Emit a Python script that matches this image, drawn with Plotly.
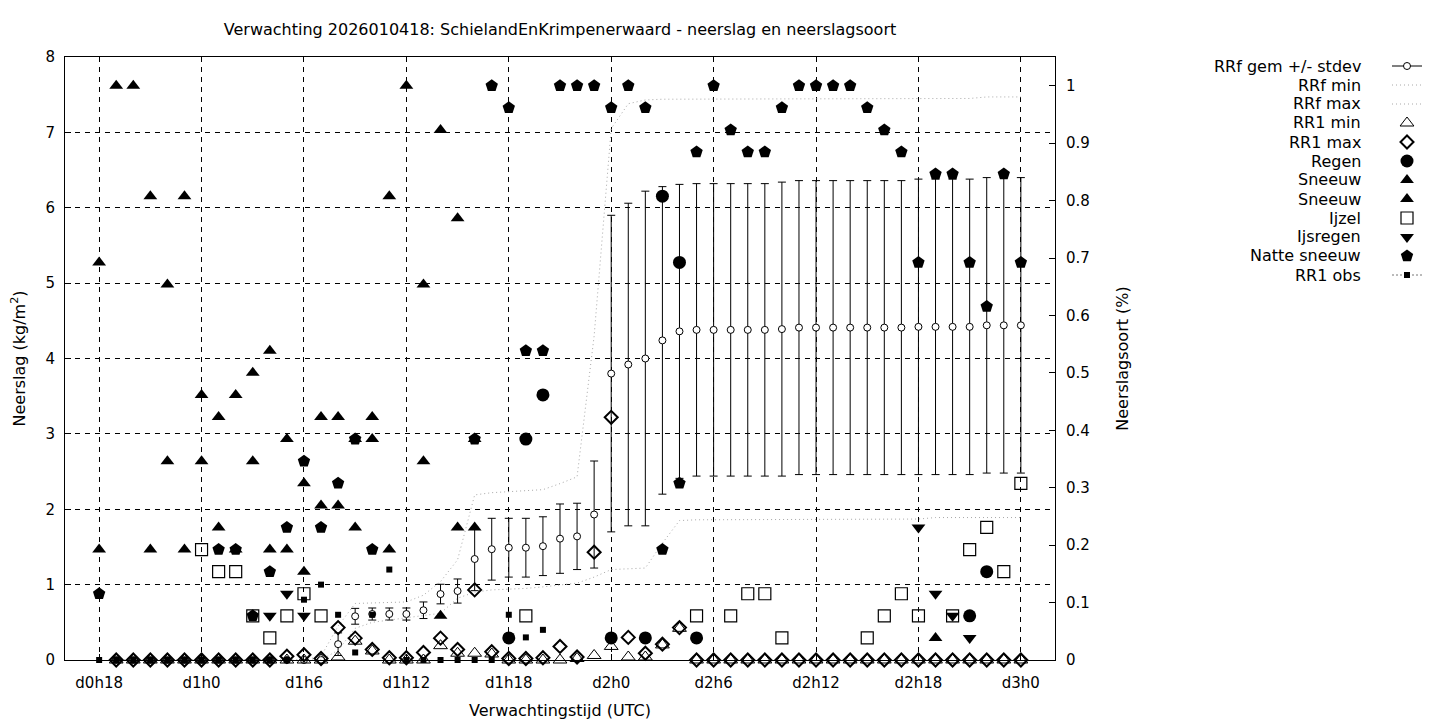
import plotly.graph_objects as go

N_MEMBERS = 26
hours = list(range(18, 73))
tick_hours = [18, 24, 30, 36, 42, 48, 54, 60, 66, 72]
tick_labels = ['d0h18', 'd1h0', 'd1h6', 'd1h12', 'd1h18', 'd2h0', 'd2h6', 'd2h12', 'd2h18', 'd3h0']
y2_ticks = [0, 0.1, 0.2, 0.3, 0.4, 0.5, 0.6, 0.7, 0.8, 0.9, 1.0]
y2_labels = ['0', '0.1', '0.2', '0.3', '0.4', '0.5', '0.6', '0.7', '0.8', '0.9', '1']
legend_labels = ['RRf gem +/- stdev', 'RRf min', 'RRf max', 'RR1 min', 'RR1 max', 'Regen',
                 'Sneeuw', 'Sneeuw', 'Ijzel', 'Ijsregen', 'Natte sneeuw', 'RR1 obs']

_ = None
# ---- precipitation (kg/m2), hours 18..72 ----
rrf_mean = [_] + [0] * 13 + [
    0.21, 0.58, 0.61, 0.61, 0.61, 0.66, 0.875, 0.915, 1.34,      # h32-h40
    1.47, 1.49, 1.49, 1.51, 1.61, 1.64, 1.93,                    # h41-h47
    3.80, 3.92, 4.00, 4.24, 4.36,                                # h48-h52
    4.38, 4.38, 4.38, 4.38, 4.38, 4.39,                          # h53-h58
    4.41, 4.41, 4.41, 4.41, 4.41, 4.41, 4.41,                    # h59-h65
    4.42, 4.42, 4.42, 4.42,                                      # h66-h69
    4.44, 4.44, 4.44]                                            # h70-h72
rrf_std = [_] * 14 + [
    0.15, 0.105, 0.08, 0.08, 0.08, 0.11, 0.13, 0.16, 0.42,
    0.41, 0.39, 0.39, 0.39, 0.46, 0.44, 0.71,
    2.10, 2.14, 2.22, 2.04, 1.95,
    1.94, 1.94, 1.94, 1.94, 1.94, 1.95,
    1.95, 1.95, 1.95, 1.95, 1.95, 1.95, 1.95,
    1.96, 1.96, 1.96, 1.96,
    1.96, 1.96, 1.96]
rrf_min = [_] + [0] * 13 + [
    0.13, 0.42, 0.50, 0.53, 0.55, 0.58, 0.62, 0.82, 0.90,
    0.93, 0.94, 0.95, 0.97, 1.00, 1.02, 1.10,
    1.20, 1.21, 1.22, 1.55, 1.85,
    1.86, 1.86, 1.86, 1.86, 1.86, 1.86,
    1.86, 1.86, 1.87, 1.87, 1.87, 1.87, 1.87,
    1.87, 1.89, 1.89, 1.89,
    1.89, 1.89, 1.89]
rrf_max = [_] + [0] * 12 + [0.05] + [
    0.45, 0.75, 0.76, 0.76, 0.77, 0.86, 1.04, 1.33, 2.19,
    2.22, 2.23, 2.24, 2.26, 2.34, 2.43, 4.30,
    7.05, 7.38, 7.43, 7.44, 7.44,
    7.44, 7.44, 7.44, 7.44, 7.44, 7.44,
    7.44, 7.44, 7.44, 7.44, 7.44, 7.44, 7.44,
    7.45, 7.45, 7.45, 7.45,
    7.47, 7.47, 7.47]
rr1_min = [_] + [0] * 13 + [
    0.04, 0.25, 0.12, 0, 0, 0, 0.19, 0.09, 0.09,
    0.08, 0, 0, 0, 0, 0.02, 0.06,
    0.18, 0.04, 0.04, 0.20, 0.42] + [0] * 20
rr1_max = [_] + [0] * 10 + [0.05, 0.07, 0.02] + [
    0.43, 0.29, 0.14, 0.03, 0.03, 0.10, 0.29, 0.14, 0.93,
    0.11, 0.02, 0.02, 0.03, 0.18, 0.04, 1.43,
    3.22, 0.30, 0.09, 0.21, 0.43] + [0] * 20
rr1_obs = [0] * 12 + [0.8, 1.0, 0.6, 0.1, 0.6, 1.2] + [0] * 6 + [0.6, 0.3, 0.4] + [_] * 28

# ---- precipitation type: number of ensemble members (of 26), hours 18..72 ----
#            h18..h28 / h29..h39 / h40..h50 / h51..h61 / h62..h72
sneeuw1 = [18, 26, 26, 21, 17, 21, 12, 11, 12, 13, 14,
           10, 8, 11, 11, 10, 11, 21, 26, 17, 24, 20,
           10, _, _, _, _, _, _, _, _, _, _,
           _, _, _, _, _, _, _, _, _, _, _,
           _, _, _, _, _, 1, _, _, _, _, _]
sneeuw2 = [5, _, _, 5, 9, 5, 9, 6, 5, 9, 5,
           5, 4, 7, 7, 6, 10, 5, _, 9, 2, 6,
           6, _, _, _, _, _, _, _, _, _, _,
           _, _, _, _, _, _, _, _, _, _, _,
           _, _, _, _, _, _, _, _, _, _, _]
natte = [3, _, _, _, _, _, _, 5, 5, 2, 4,
         6, 9, 6, 8, 10, 5, _, _, _, _, _,
         10, 26, 25, 14, 14, 26, 26, 26, 25, 26, 25,
         5, 8, 23, 26, 24, 23, 23, 25, 26, 26, 26,
         26, 25, 24, 23, 18, 22, 22, 18, 16, 22, 18]
regen = [_, _, _, _, _, _, _, _, _, _, _,
         _, _, _, _, _, _, _, _, _, _, _,
         _, _, 1, 10, 12, _, _, _, 1, _, 1,
         21, 18, 1, _, _, _, _, _, _, _, _,
         _, _, _, _, _, _, _, 2, 4, _, _]
ijzel = [_, _, _, _, _, _, 5, 4, 4, 2, 1,
         2, 3, 2, _, _, _, _, _, _, _, _,
         _, _, _, 2, _, _, _, _, _, _, _,
         _, _, 2, _, 2, 3, 3, 1, _, _, _,
         _, 1, 2, 3, 2, _, 2, 5, 6, 4, 8]
ijsregen = [_, _, _, _, _, _, _, _, _, _, 2,
            3, 2, _, _, _, _, _, _, _, _, _,
            _, _, _, _, _, _, _, _, _, _, _,
            _, _, _, _, _, _, _, _, _, _, _,
            _, _, _, _, 6, 3, 2, 1, _, _, _]


def frac(counts):
    return [None if c is None else c / N_MEMBERS for c in counts]


FONT = 'DejaVu Sans'
BLANK = ' '   # legend labels are drawn as right-aligned annotations (gnuplot style key)
fig = go.Figure()

# RRf gem +/- stdev
fig.add_trace(go.Scatter(
    x=hours, y=rrf_mean, mode='markers', showlegend=False, name=legend_labels[0],
    marker=dict(symbol='circle', size=7, color='white', line=dict(color='black', width=1)),
    error_y=dict(type='data', array=rrf_std, visible=True, color='black', thickness=1, width=4),
    cliponaxis=False))
fig.add_trace(go.Scatter(
    x=[None], y=[None], mode='lines+markers', name=BLANK,
    line=dict(color='black', width=1),
    marker=dict(symbol='circle', size=7, color='white', line=dict(color='black', width=1))))
# RRf min / max
fig.add_trace(go.Scatter(x=hours, y=rrf_min, mode='lines', name=BLANK,
                         line=dict(color='#a8a8a8', width=1, dash='1px,3px')))
fig.add_trace(go.Scatter(x=hours, y=rrf_max, mode='lines', name=BLANK,
                         line=dict(color='#a8a8a8', width=1, dash='1px,3px')))
# RR1 min / max
fig.add_trace(go.Scatter(x=hours, y=rr1_min, mode='markers', name=BLANK, cliponaxis=False,
                         marker=dict(symbol='triangle-up-open', size=12, color='black', line=dict(width=1))))
fig.add_trace(go.Scatter(x=hours, y=rr1_max, mode='markers', name=BLANK, cliponaxis=False,
                         marker=dict(symbol='diamond-open', size=10, color='black', line=dict(width=2))))
# precipitation type (right axis)
fig.add_trace(go.Scatter(x=hours, y=frac(regen), yaxis='y2', mode='markers', name=BLANK, cliponaxis=False,
                         marker=dict(symbol='circle', size=13, color='black')))
fig.add_trace(go.Scatter(x=hours, y=frac(sneeuw1), yaxis='y2', mode='markers', name=BLANK, cliponaxis=False,
                         marker=dict(symbol='triangle-up', size=12, color='black')))
fig.add_trace(go.Scatter(x=hours, y=frac(sneeuw2), yaxis='y2', mode='markers', name=BLANK, cliponaxis=False,
                         marker=dict(symbol='triangle-up', size=12, color='black')))
fig.add_trace(go.Scatter(x=hours, y=frac(ijzel), yaxis='y2', mode='markers', name=BLANK, cliponaxis=False,
                         marker=dict(symbol='square-open', size=12, color='black', line=dict(width=1.2))))
fig.add_trace(go.Scatter(x=hours, y=frac(ijsregen), yaxis='y2', mode='markers', name=BLANK, cliponaxis=False,
                         marker=dict(symbol='triangle-down', size=12, color='black')))
fig.add_trace(go.Scatter(x=hours, y=frac(natte), yaxis='y2', mode='markers', name=BLANK, cliponaxis=False,
                         marker=dict(symbol='pentagon', size=13, color='black')))
# RR1 obs
fig.add_trace(go.Scatter(x=hours, y=rr1_obs, mode='markers', showlegend=False, name=legend_labels[11],
                         cliponaxis=False, marker=dict(symbol='square', size=6, color='black')))
fig.add_trace(go.Scatter(x=[None], y=[None], mode='lines+markers', name=BLANK,
                         line=dict(color='#777777', width=1, dash='2px,2px'),
                         marker=dict(symbol='square', size=6, color='black')))

# page is drawn with an 8px body margin: figure coords = page coords - 8
W, H = 1432, 712
L, T = 57, 49                   # plot area left / top in figure px
PW, PH = 990, 603               # plot area size in figure px
KEY_TOP = 58                    # centre of first key row (figure px)
KEY_STEP = 19                   # key row spacing (px)
KEY_TEXT_RIGHT = 1355           # right edge of key texts (figure px)

annotations = []
for i, lab in enumerate(legend_labels):
    fy = KEY_TOP + KEY_STEP * i
    annotations.append(dict(text=lab, xref='paper', yref='paper',
                            x=(KEY_TEXT_RIGHT - L) / PW, y=1 - (fy - T) / PH,
                            xanchor='right', yanchor='middle', showarrow=False,
                            font=dict(family=FONT, size=16, color='black')))

grid = dict(showgrid=True, gridcolor='black', gridwidth=1, griddash='5px,5px')
AXT = dict(family=FONT, size=16, color='black')
fig.update_layout(
    width=W, height=H,
    margin=dict(l=L, r=W - L - PW, t=T, b=H - T - PH, autoexpand=False),
    plot_bgcolor='white', paper_bgcolor='white',
    font=dict(family=FONT, size=15, color='black'),
    title=dict(text='Verwachting 2026010418: SchielandEnKrimpenerwaard - neerslag en neerslagsoort',
               x=0.5, xref='paper', xanchor='center', y=1 - 21 / H, yref='container', yanchor='middle',
               font=dict(family=FONT, size=16)),
    xaxis=dict(range=[16, 74], tickvals=tick_hours, ticktext=tick_labels, ticks='inside', ticklen=6,
               tickcolor='black', showline=True, linecolor='black', linewidth=1, mirror=True, zeroline=False,
               ticklabelstandoff=9, title=dict(text='Verwachtingstijd (UTC)', standoff=13, font=AXT), **grid),
    yaxis=dict(range=[0, 8], dtick=1, ticks='inside', ticklen=6, tickcolor='black', showline=True,
               linecolor='black', linewidth=1, mirror=True, zeroline=False, ticklabelstandoff=6,
               title=dict(text='Neerslag (kg/m<sup>2</sup>)', standoff=19, font=AXT), **grid),
    yaxis2=dict(range=[0, 1.05], overlaying='y', side='right', tickvals=y2_ticks, ticktext=y2_labels,
                ticks='inside', ticklen=6, tickcolor='black', showgrid=False, zeroline=False,
                ticklabelstandoff=10, title=dict(text='Neerslagsoort (%)', standoff=27, font=AXT)),
    legend=dict(x=(1379 - L) / PW, y=1 + (T - 43.5) / PH, xanchor='left', yanchor='top',
                font=dict(family=FONT, size=12), bgcolor='rgba(0,0,0,0)', tracegroupgap=0),
    showlegend=True,
    annotations=annotations,
)

fig.write_html('out.html')
